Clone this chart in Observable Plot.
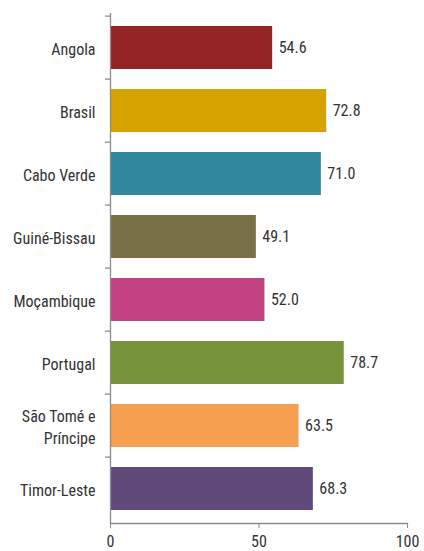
<!DOCTYPE html>
<html>
<head>
<meta charset="utf-8">
<script src="https://cdn.jsdelivr.net/npm/d3@7"></script>
<script src="https://cdn.jsdelivr.net/npm/@observablehq/plot@0.6"></script>
<style>
  html, body { margin: 0; padding: 0; background: #fff; }
  #chart svg { display: block; }
</style>
</head>
<body>
<div id="chart"></div>
<script>
const countries = ["Angola", "Brasil", "Cabo Verde", "Guiné-Bissau", "Moçambique", "Portugal", "São Tomé e Príncipe", "Timor-Leste"];
const values = [54.6, 72.8, 71.0, 49.1, 52.0, 78.7, 63.5, 68.3];
const colors = ["#922426", "#d6a200", "#31879e", "#7a7046", "#c54282", "#77933c", "#f79f50", "#604a7b"];
const xTicks = [0, 50, 100];
const tickLabels = {"São Tomé e Príncipe": "São Tomé e\nPríncipe"};

const data = countries.map((c, i) => ({country: c, value: values[i], color: colors[i]}));

const W = 424, H = 551, mT = 13, mB = 28, mL = 110, mR = 17;
const step = (H - mT - mB) / countries.length;
const font = "'Roboto Condensed', 'Liberation Sans Narrow', sans-serif";

const chart = Plot.plot({
  width: W,
  height: H,
  marginTop: mT,
  marginBottom: mB,
  marginLeft: mL,
  marginRight: mR,
  style: {fontFamily: font, fontSize: "16px", color: "#333", background: "#fff"},
  x: {domain: [0, 100]},
  y: {domain: countries, paddingInner: 0.31, paddingOuter: 0.155, align: 0.5},
  marks: [
    Plot.barX(data, {x: "value", y: "country", fill: "color", x1: 0}),
    Plot.text(data, {x: "value", y: "country", text: d => d.value.toFixed(1), textAnchor: "start", dx: 6, fontSize: 16, fill: "#333"}),
    Plot.ruleX([0], {stroke: "#8c8c8c", strokeWidth: 1.3}),
    Plot.frame({anchor: "bottom", stroke: "#8c8c8c", strokeWidth: 1.3}),
    Plot.ruleY(countries, {y: d => d, x1: -1.7, x2: 0, dy: -step / 2, stroke: "#8c8c8c", strokeWidth: 1.3}),
    Plot.axisX({ticks: xTicks, tickSize: 5, tickPadding: 7, stroke: "#8c8c8c", fill: "#333", fontSize: 16, label: null, tickFormat: d => String(d)}),
    Plot.axisY({tickSize: 0, tickPadding: 15, label: null, fontSize: 16, fill: "#333", lineHeight: 1.375, tickFormat: d => tickLabels[d] || d})
  ]
});
document.getElementById("chart").appendChild(chart);
</script>
</body>
</html>
